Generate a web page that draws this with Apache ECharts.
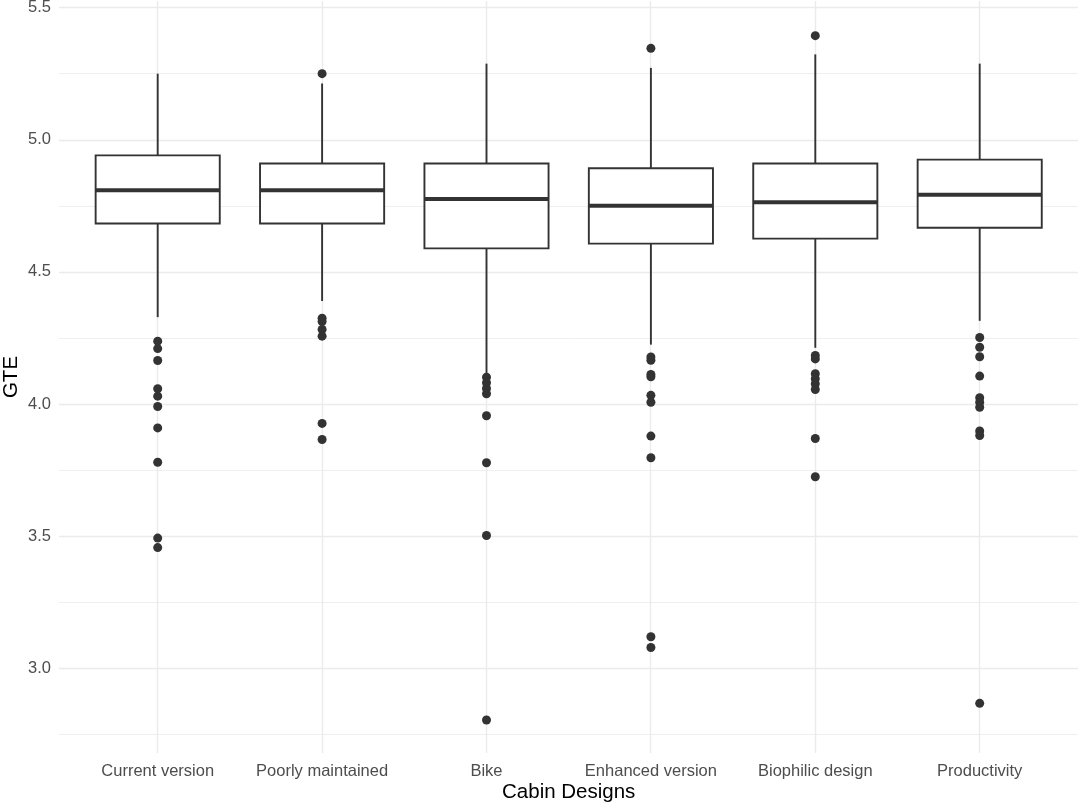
<!DOCTYPE html>
<html>
<head>
<meta charset="utf-8">
<style>html,body{margin:0;padding:0;background:#fff;}#chart{width:1080px;height:806px;}</style>
<script src="https://cdn.jsdelivr.net/npm/echarts@6/dist/echarts.min.js"></script>
</head>
<body>
<div id="chart"></div>
<script>
var categories = ['Current version', 'Poorly maintained', 'Bike', 'Enhanced version', 'Biophilic design', 'Productivity'];
var lowWhisker = [4.329, 4.390, 4.110, 4.225, 4.213, 4.315];
var q1 = [4.683, 4.683, 4.589, 4.607, 4.626, 4.667];
var median = [4.809, 4.809, 4.776, 4.750, 4.764, 4.792];
var q3 = [4.941, 4.910, 4.910, 4.892, 4.910, 4.925];
var highWhisker = [5.250, 5.213, 5.288, 5.272, 5.323, 5.288];
var outliers = [
  [4.238, 4.210, 4.165, 4.058, 4.030, 3.991, 3.910, 3.780, 3.493, 3.457],
  [5.250, 4.325, 4.312, 4.282, 4.257, 3.927, 3.866],
  [4.102, 4.081, 4.059, 4.039, 3.956, 3.778, 3.503, 2.805],
  [5.346, 4.178, 4.166, 4.112, 4.103, 4.033, 4.007, 3.879, 3.797, 3.120, 3.079],
  [5.394, 4.184, 4.171, 4.115, 4.096, 4.077, 4.055, 3.870, 3.725],
  [4.252, 4.215, 4.179, 4.106, 4.024, 4.007, 3.988, 3.898, 3.881, 2.868]
];
var yLabels = [3.0, 3.5, 4.0, 4.5, 5.0, 5.5];
var yMinor = [2.75, 3.25, 3.75, 4.25, 4.75, 5.25];
var yMin = 2.68, yMax = 5.525;

var boxData = categories.map(function (c, i) {
  return [i, lowWhisker[i], q1[i], median[i], q3[i], highWhisker[i]];
});
var outlierData = [];
outliers.forEach(function (arr, i) { arr.forEach(function (v) { outlierData.push([i, v]); }); });

var gridLines = [];
yLabels.forEach(function (v) { gridLines.push({ yAxis: v, lineStyle: { width: 1.4 } }); });
yMinor.forEach(function (v) { gridLines.push({ yAxis: v, lineStyle: { width: 0.8 } }); });
categories.forEach(function (c, i) { gridLines.push({ xAxis: i, lineStyle: { width: 1.4 } }); });

var stroke = '#333333';
var chart = echarts.init(document.getElementById('chart'), null, { renderer: 'canvas' });
chart.setOption({
  backgroundColor: '#ffffff',
  animation: false,
  grid: [
    { left: 75.5, right: 18.1, top: 1, bottom: 53, containLabel: false, outerBoundsMode: 'none' },
    { left: 59, right: 2, top: 1, bottom: 53, containLabel: false, outerBoundsMode: 'none' }
  ],
  xAxis: [
    {
      type: 'category', gridIndex: 0, data: categories, boundaryGap: true,
      axisLine: { show: false }, axisTick: { show: false }, splitLine: { show: false },
      axisLabel: { color: '#4d4d4d', fontSize: 16.5, fontFamily: 'Liberation Sans', margin: 10, interval: 0 },
      name: 'Cabin Designs', nameLocation: 'middle', nameGap: 29, nameMoveOverlap: false,
      nameTextStyle: { color: '#000', fontSize: 20.5, fontFamily: 'Liberation Sans' }
    },
    { type: 'value', gridIndex: 1, min: -0.6, max: 5.6, show: false }
  ],
  yAxis: [
    { type: 'value', gridIndex: 0, min: yMin, max: yMax, show: false },
    {
      type: 'value', gridIndex: 1, min: yMin, max: yMax,
      axisLine: { show: false }, axisTick: { show: false }, splitLine: { show: false },
      axisLabel: {
        color: '#4d4d4d', fontSize: 16.5, fontFamily: 'Liberation Sans', margin: 8,
        showMinLabel: false, showMaxLabel: false,
        formatter: function (v) {
          for (var k = 0; k < yLabels.length; k++) { if (Math.abs(v - yLabels[k]) < 1e-6) return yLabels[k].toFixed(1); }
          return '';
        }
      },
      name: 'GTE', nameLocation: 'middle', nameGap: 37, nameRotate: 90, nameMoveOverlap: false,
      nameTextStyle: { color: '#000', fontSize: 20.5, fontFamily: 'Liberation Sans' }
    }
  ],
  series: [
    {
      type: 'line', xAxisIndex: 1, yAxisIndex: 1, data: [], z: 1, silent: true,
      markLine: {
        silent: true, symbol: ['none', 'none'], label: { show: false },
        lineStyle: { color: '#ebebeb', type: 'solid' },
        emphasis: { disabled: true },
        data: gridLines
      }
    },
    {
      type: 'custom', xAxisIndex: 0, yAxisIndex: 0, z: 5,
      data: boxData,
      encode: { x: 0, y: [1, 2, 3, 4, 5] },
      renderItem: function (params, api) {
        var x = api.value(0);
        var pLow = api.coord([x, api.value(1)]);
        var pQ1 = api.coord([x, api.value(2)]);
        var pMed = api.coord([x, api.value(3)]);
        var pQ3 = api.coord([x, api.value(4)]);
        var pHigh = api.coord([x, api.value(5)]);
        var band = api.size([1, 0])[0];
        var half = band * 0.755 / 2;
        var cx = pMed[0];
        return {
          type: 'group',
          children: [
            { type: 'line', shape: { x1: cx, y1: pLow[1], x2: cx, y2: pQ1[1] }, style: { stroke: stroke, lineWidth: 1.9 } },
            { type: 'line', shape: { x1: cx, y1: pQ3[1], x2: cx, y2: pHigh[1] }, style: { stroke: stroke, lineWidth: 1.9 } },
            { type: 'rect', shape: { x: cx - half, y: pQ3[1], width: half * 2, height: pQ1[1] - pQ3[1] }, style: { fill: '#ffffff', stroke: stroke, lineWidth: 1.9 } },
            { type: 'line', shape: { x1: cx - half, y1: pMed[1], x2: cx + half, y2: pMed[1] }, style: { stroke: stroke, lineWidth: 4 } }
          ]
        };
      }
    },
    {
      type: 'scatter', xAxisIndex: 0, yAxisIndex: 0, z: 6,
      data: outlierData, symbol: 'circle', symbolSize: 9,
      itemStyle: { color: stroke, opacity: 1 }
    }
  ]
});
</script>
</body>
</html>
